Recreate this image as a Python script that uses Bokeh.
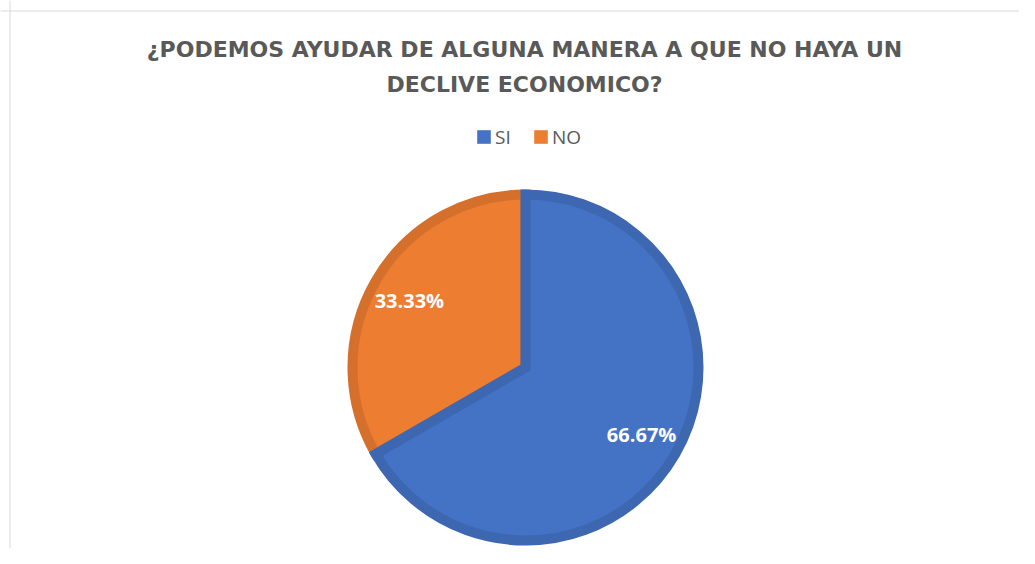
import numpy as np
from bokeh.plotting import figure
from bokeh.models import ColumnDataSource, Range1d, Legend, LegendItem, Label, Span
from bokeh.core.properties import value
from bokeh.embed import file_html
from bokeh.resources import INLINE

# ---- data ----
categories = ["SI", "NO"]
percent = [66.67, 33.33]
labels = ["66.67%", "33.33%"]
fills = ["#4472C4", "#ED7D31"]
borders = ["#3D67B1", "#D4702C"]
title_lines = ["¿PODEMOS AYUDAR DE ALGUNA MANERA A QUE NO HAYA UN", "DECLIVE ECONOMICO?"]

W, H = 1019, 548
CX, CY = 525, 367   # pie centre, px from top-left of the canvas
R = 173             # pie radius (1 data unit = 1 px)

p = figure(width=W, height=H, output_backend="svg", toolbar_location=None,
           x_range=Range1d(-CX, W - CX), y_range=Range1d(-(H - CY), CY),
           min_border=0)
p.axis.visible = False
p.grid.visible = False
p.outline_line_color = None
p.background_fill_color = "white"
p.border_fill_color = "white"

# slice angles: clockwise from 12 o'clock
frac = np.array(percent) / np.sum(percent)
cum = np.concatenate([[0], np.cumsum(frac)])
start_clock = np.pi / 2 - 2 * np.pi * cum[:-1]
end_clock = np.pi / 2 - 2 * np.pi * cum[1:]
mid = (start_clock + end_clock) / 2

src = ColumnDataSource(dict(cat=categories, pct=percent, start=end_clock, end=start_clock,
                            fill=fills, border=borders,
                            lx=0.775 * R * np.cos(mid), ly=0.775 * R * np.sin(mid), lab=labels))

# draw NO first, then SI
for i in [1, 0]:
    p.wedge(x=0, y=0, radius=R, start_angle=src.data["start"][i], end_angle=src.data["end"][i],
            fill_color=fills[i], line_color=borders[i], line_width=10, line_join="miter")

p.text(x="lx", y="ly", text="lab", source=src, text_align="center", text_baseline="middle",
       text_color="white", text_font=value("Open Sans"), text_font_style="bold",
       text_font_size="20px")

# legend with square swatches (proxy renderers, not drawn in the plot)
items = []
for i, c in enumerate(categories):
    r = p.quad(left=[np.nan], right=[np.nan], bottom=[np.nan], top=[np.nan],
               fill_color=fills[i], line_color=None)
    items.append(LegendItem(label=c, renderers=[r]))
legend = Legend(items=items, orientation="horizontal", location=(475, H - 149.5),
                padding=0, margin=0, spacing=17, label_standoff=3,
                glyph_width=17, glyph_height=17, label_height=20,
                label_text_font="Open Sans", label_text_font_size="19px",
                label_text_color="#595959", border_line_color=None,
                background_fill_alpha=0)
p.add_layout(legend, "center")

# title
for txt, ty in zip(title_lines, [49, 84]):
    p.add_layout(Label(x=524 - CX, y=CY - ty, text=txt, text_align="center", text_baseline="middle",
                       text_font="DejaVu Sans", text_font_style="bold", text_font_size="22px",
                       text_color="#595959"))

# chart area border (left/top)
p.add_layout(Span(location=9.5 - CX, dimension="height", line_color="#D9D9D9", line_width=1))
p.add_layout(Span(location=CY - 10.5, dimension="width", line_color="#D9D9D9", line_width=1))

open("out.html", "w").write(file_html(p, INLINE))
